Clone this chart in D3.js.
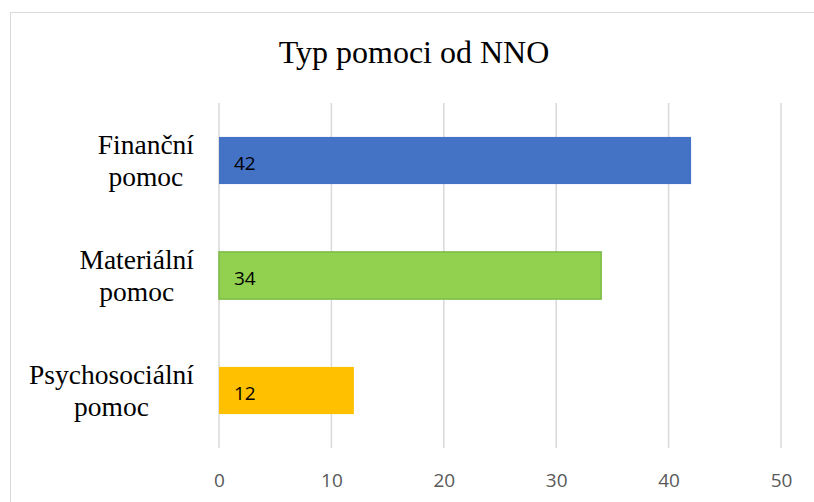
<!DOCTYPE html>
<html>
<head>
<meta charset="utf-8">
<script src="https://cdn.jsdelivr.net/npm/d3@7"></script>
<style>
  body { margin: 0; background: #fff; }
</style>
</head>
<body>
<svg id="chart"></svg>
<script>
var categories = ['Finanční pomoc', 'Materiální pomoc', 'Psychosociální pomoc'];
var values = [42, 34, 12];
var colors = ['#4472C4', '#92D050', '#FFC000'];
var ticks = [0, 10, 20, 30, 40, 50];
var title = 'Typ pomoci od NNO';

var W = 814, H = 502;
var svg = d3.select('#chart').attr('width', W).attr('height', H);

// chart frame
svg.append('rect')
    .attr('x', 10.5).attr('y', 12.5)
    .attr('width', W).attr('height', H)
    .attr('fill', 'none')
    .attr('stroke', '#d9d9d9')
    .attr('stroke-width', 1);

var x = d3.scaleLinear().domain([0, 50]).range([219, 781]);
var y = d3.scaleBand().domain(categories).range([103, 448]).paddingInner(0.59).paddingOuter(0.295);

svg.append('text')
    .attr('x', 414).attr('y', 63)
    .attr('text-anchor', 'middle')
    .style('font-family', '"Liberation Serif", "Times New Roman", serif')
    .style('font-size', '32px')
    .attr('fill', '#000')
    .text(title);

// gridlines
svg.append('g')
    .selectAll('line')
    .data(ticks)
    .enter()
    .append('line')
    .attr('x1', function(d) { return x(d); })
    .attr('x2', function(d) { return x(d); })
    .attr('y1', 103).attr('y2', 448)
    .attr('stroke', '#d9d9d9')
    .attr('stroke-width', 1.5);

// x axis tick labels
var xAxis = d3.axisBottom(x).tickValues(ticks).tickSize(0).tickPadding(0);
var gx = svg.append('g').attr('transform', 'translate(0,487)').call(xAxis);
gx.select('.domain').remove();
gx.selectAll('text')
    .attr('dy', 0)
    .style('font-family', '"Open Sans", "Noto Sans", sans-serif')
    .style('font-size', '19px')
    .attr('fill', '#595959');

// bars
svg.append('g')
    .selectAll('rect')
    .data(categories)
    .enter()
    .append('rect')
    .attr('x', x(0))
    .attr('y', function(d) { return y(d); })
    .attr('width', function(d, i) { return x(values[i]) - x(0); })
    .attr('height', y.bandwidth())
    .attr('fill', function(d, i) { return colors[i]; })
    .attr('stroke', function(d, i) { return i === 1 ? '#7cbb45' : 'none'; })
    .attr('stroke-width', 1.5);

// value labels
svg.append('g')
    .selectAll('text')
    .data(categories)
    .enter()
    .append('text')
    .attr('x', x(0) + 15)
    .attr('y', function(d) { return y(d) + y.bandwidth() / 2 + 9; })
    .style('font-family', '"Open Sans", "Noto Sans", sans-serif')
    .style('font-size', '19px')
    .attr('fill', '#000')
    .text(function(d, i) { return values[i]; });

// category labels: two centred lines, block right-aligned at 194
var catG = svg.append('g')
    .selectAll('g')
    .data(categories)
    .enter()
    .append('g');

catG.each(function(d) {
  var g = d3.select(this);
  var parts = d.split(' ');
  var cy = y(d) + y.bandwidth() / 2;
  var t1 = g.append('text')
      .attr('text-anchor', 'middle')
      .attr('y', cy - 7)
      .style('font-family', '"Liberation Serif", "Times New Roman", serif')
      .style('font-size', '27.5px')
      .attr('fill', '#000')
      .text(parts[0]);
  var w = t1.node().getComputedTextLength();
  var cx = 194 - w / 2;
  t1.attr('x', cx);
  g.append('text')
      .attr('text-anchor', 'middle')
      .attr('x', cx)
      .attr('y', cy + 25)
      .style('font-family', '"Liberation Serif", "Times New Roman", serif')
      .style('font-size', '27.5px')
      .attr('fill', '#000')
      .text(parts[1]);
});
</script>
</body>
</html>
